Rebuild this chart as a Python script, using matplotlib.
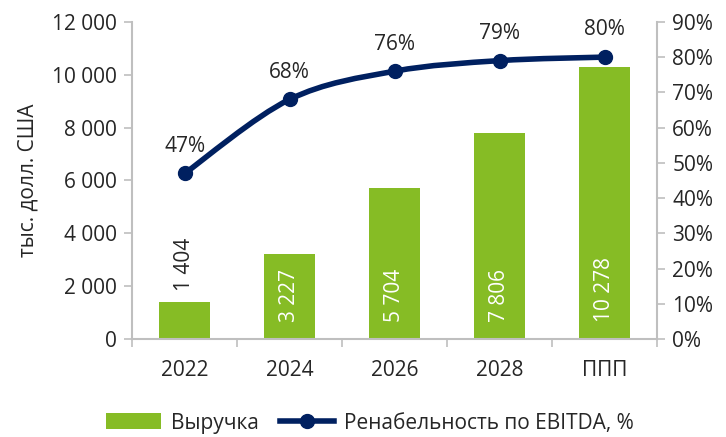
import matplotlib.pyplot as plt
import numpy as np
from matplotlib.path import Path
from matplotlib.patches import PathPatch
from matplotlib.lines import Line2D
from matplotlib.patches import Patch

plt.rcParams['font.family'] = ['Open Sans', 'DejaVu Sans']

categories = ["2022", "2024", "2026", "2028", "ППП"]
revenue = [1404, 3227, 5704, 7806, 10278]
revenue_labels = ["1 404", "3 227", "5 704", "7 806", "10 278"]
margin = [47, 68, 76, 79, 80]
margin_labels = ["47%", "68%", "76%", "79%", "80%"]
left_ticks = [0, 2000, 4000, 6000, 8000, 10000, 12000]
left_tick_labels = ["0", "2 000", "4 000", "6 000", "8 000", "10 000", "12 000"]
right_ticks = [0, 10, 20, 30, 40, 50, 60, 70, 80, 90]

GREEN = "#86BC25"
NAVY = "#002060"
GREY = "#BFBFBF"
TXT = "#262626"
FS = 15


def smooth_path(x, y, tension=1 / 6):
    # catmull-rom style bezier, like excel's smoothed line
    verts = [(x[0], y[0])]
    codes = [Path.MOVETO]
    n = len(x)
    for i in range(n - 1):
        x0, y0 = (x[i - 1], y[i - 1]) if i > 0 else (x[i], y[i])
        x3, y3 = (x[i + 2], y[i + 2]) if i + 2 < n else (x[i + 1], y[i + 1])
        c1 = (x[i] + (x[i + 1] - x0) * tension, y[i] + (y[i + 1] - y0) * tension)
        c2 = (x[i + 1] - (x3 - x[i]) * tension, y[i + 1] - (y3 - y[i]) * tension)
        verts += [c1, c2, (x[i + 1], y[i + 1])]
        codes += [Path.CURVE4] * 3
    return Path(verts, codes)


fig = plt.figure(figsize=(7.26, 4.37), dpi=100)
ax = fig.add_axes([0.182, 0.224, 0.723, 0.726])
ax2 = ax.twinx()

x = np.arange(len(categories))
ax.bar(x, revenue, width=0.48, color=GREEN, zorder=2)

ax.set_xlim(-0.5, len(categories) - 0.5)
ax.set_ylim(0, 12000)
ax.set_yticks(left_ticks)
ax.set_yticklabels(left_tick_labels)
ax.set_xticks(x)
ax.set_xticklabels(categories)
ax.set_xticks(np.arange(-0.5, len(categories)), minor=True)
ax.tick_params(axis='x', which='major', length=0, pad=15, labelsize=FS, colors=TXT)
ax.tick_params(axis='x', which='minor', length=6, color=GREY, width=1.2)
ax.tick_params(axis='y', length=6, color=GREY, width=1.2, labelsize=FS, colors=TXT, pad=5)
ax.set_ylabel("тыс. долл. США", fontsize=FS, color=TXT, labelpad=10)

for side in ["top", "right"]:
    ax.spines[side].set_visible(False)
for side in ["left", "bottom"]:
    ax.spines[side].set_color(GREY)
    ax.spines[side].set_linewidth(1.5)

for i, v in enumerate(revenue):
    if v < 2000:
        ax.annotate(revenue_labels[i], (x[i], v), xytext=(0, 8), textcoords="offset points",
                    rotation=90, ha="center", va="bottom", fontsize=FS, color=TXT)
    else:
        ax.annotate(revenue_labels[i], (x[i], 0), xytext=(0, 12), textcoords="offset points",
                    rotation=90, ha="center", va="bottom", fontsize=FS, color="white")

ax2.set_ylim(0, 90)
ax2.set_yticks(right_ticks)
ax2.set_yticklabels([f"{t}%" for t in right_ticks])
ax2.tick_params(axis='y', length=6, color=GREY, width=1.2, labelsize=FS, colors=TXT, pad=5)
for side in ["top", "left", "bottom"]:
    ax2.spines[side].set_visible(False)
ax2.spines["right"].set_color(GREY)
ax2.spines["right"].set_linewidth(1.5)

path = smooth_path(list(x), margin)
ax2.add_patch(PathPatch(path, facecolor="none", edgecolor=NAVY, lw=4, zorder=3,
                        capstyle="round"))
ax2.plot(x, margin, "o", color=NAVY, markersize=10, zorder=4)
for i, m in enumerate(margin):
    ax2.annotate(margin_labels[i], (x[i], m), xytext=(0, 12), textcoords="offset points",
                 ha="center", va="bottom", fontsize=FS, color=TXT)

handles = [Patch(facecolor=GREEN, label="Выручка"),
           Line2D([0], [0], color=NAVY, lw=4, marker="o", markersize=10,
                  label="Ренабельность по EBITDA, %")]
fig.legend(handles=handles, loc="lower center", bbox_to_anchor=(0.51, -0.035), ncol=2,
           frameon=False, fontsize=FS, handlelength=2.6, columnspacing=1.0,
           handleheight=0.8, handletextpad=0.5, labelcolor=TXT)

fig.savefig("out.png", dpi=100)
